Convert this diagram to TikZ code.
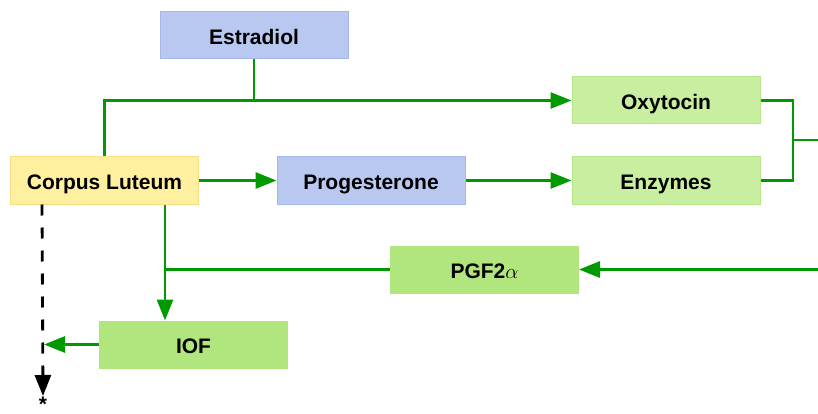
\documentclass[tikz,border=0pt]{standalone}
\usepackage{fontspec}
\setmainfont{Liberation Sans}
\usetikzlibrary{arrows.meta}
\definecolor{lineg}{HTML}{009900}
\definecolor{bluef}{HTML}{B8C8F0}
\definecolor{blued}{HTML}{A3B7E8}
\definecolor{lightg}{HTML}{C8EEA0}
\definecolor{lightgd}{HTML}{B5E68A}
\definecolor{midg}{HTML}{B1E57D}
\definecolor{yellf}{HTML}{FFF0A0}
\definecolor{yelld}{HTML}{F7DE85}
\begin{document}
\begin{tikzpicture}[x=1pt,y=-1pt,
  box/.style={minimum width=188pt, minimum height=47pt, inner sep=0pt, line width=1pt,
    text height=18.5pt, text depth=0pt, font=\fontsize{21}{25}\selectfont\bfseries},
  hormone/.style={box, fill=bluef, draw=blued},
  effect/.style={box, fill=lightg, draw=lightgd},
  factor/.style={box, fill=midg, draw=midg},
  gland/.style={box, fill=yellf, draw=yelld},
  gline/.style={draw=lineg, line width=2.8pt},
  garrow/.style={gline, -{Triangle[length=21pt,width=16pt]}},
  darrow/.style={black, line width=2.8pt, dash pattern=on 11pt off 12pt, -{Triangle[length=21pt,width=16pt]}}]
\useasboundingbox (0,0) rectangle (818,414);
% boxes
\node[hormone] (est) at (254,35.5) {Estradiol};
\node[effect] (oxy) at (666,100.5) {Oxytocin};
\node[effect] (enz) at (666,180.5) {Enzymes};
\node[gland] (cl) at (104.5,180.5) {Corpus Luteum};
\node[hormone] (prog) at (371,180.5) {Progesterone};
\node[factor] (pgf) at (484.5,269.5) {PGF2$\alpha$};
\node[factor] (iof) at (193.5,344.5) {IOF};
\node[font=\fontsize{21}{25}\selectfont\bfseries, inner sep=1pt, anchor=north] (star) at (43,396) {*};

% free ends and branch points
\coordinate (jn) at (793,140);
\coordinate (outR) at (818,140);
\coordinate (inR) at (818,269.5);
\coordinate (clb) at ([xshift=60.5pt]cl.south);
\coordinate (dsh) at ([xshift=32pt]cl.south west);

% connectors
\draw[garrow] (cl.north) |- (oxy.west);
\draw[gline] (est.south) -- (est.south |- oxy.west);
\draw[garrow] (cl.east) -- (prog.west);
\draw[garrow] (prog.east) -- (enz.west);
\draw[gline] (oxy.east) -| (jn) |- (enz.east);
\draw[gline] (jn) -- (outR);
\draw[garrow] (inR) -- (pgf.east);
\draw[gline] (pgf.west) -- (pgf.west -| clb);
\draw[garrow] (clb) -- (clb |- iof.north);
\draw[garrow] (iof.west) -- ([xshift=2pt]iof.west -| dsh);
\draw[darrow] (dsh) -- (star.north);
\end{tikzpicture}
\end{document}
